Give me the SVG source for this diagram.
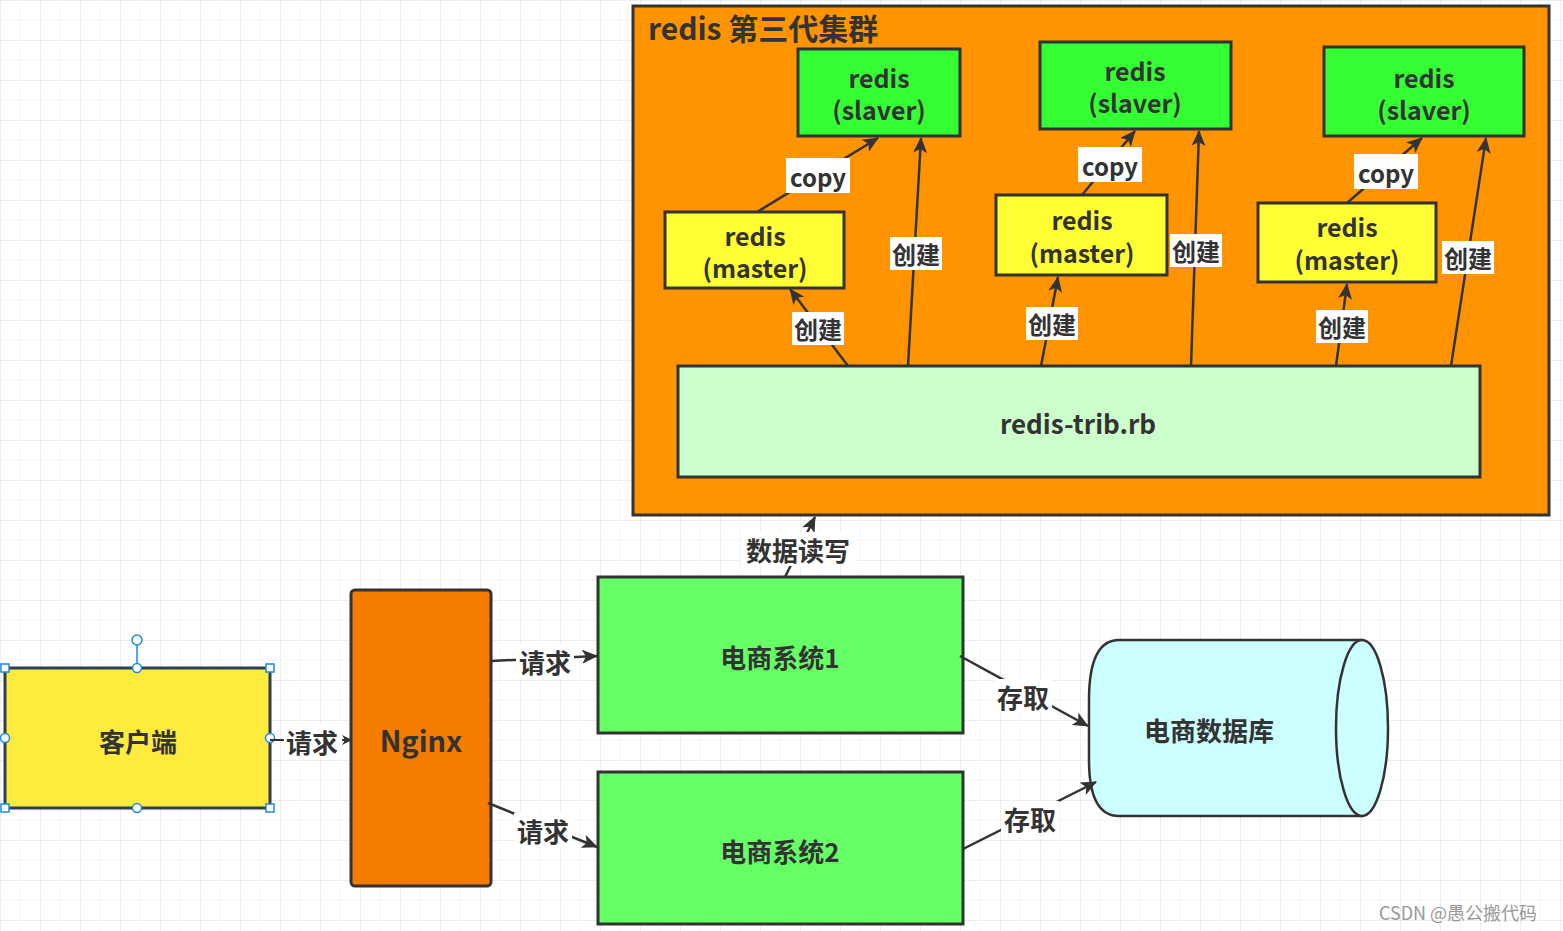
<svg xmlns="http://www.w3.org/2000/svg" width="1563" height="931" viewBox="0 0 1563 931">
<defs>
<pattern id="g" width="40" height="40" patternUnits="userSpaceOnUse"><path d="M40 0H0V40" fill="none" stroke="#e8e8e8" stroke-width="1.5"/><path d="M20 0V40M0 20H40" fill="none" stroke="#f3f3f3" stroke-width="1"/></pattern>
<marker id="a" markerWidth="10" markerHeight="10" refX="9" refY="5" orient="auto" markerUnits="userSpaceOnUse" viewBox="0 0 10 10"><path d="M0 0L10 5L0 10L3 5z" fill="#333"/></marker>
<marker id="b" markerWidth="16" markerHeight="14" refX="15" refY="7" orient="auto" markerUnits="userSpaceOnUse" viewBox="0 0 16 14"><path d="M0 0L16 7L0 14L4 7z" fill="#333"/></marker>
</defs>
<style>
text{font-family:"Noto Sans CJK SC","Noto Sans",sans-serif;font-weight:bold;fill:#333;text-anchor:middle;dominant-baseline:central}
.n{stroke:#333;stroke-width:3}
.c{fill:none;stroke:#333;stroke-width:2.5;marker-end:url(#b)}
.lb{fill:#fff}
.t26{font-size:26px}
.t25{font-size:25px}
.t24{font-size:24px}
.h{fill:#fff;stroke:#1e88e5;stroke-width:1.5}
</style>
<rect width="1563" height="931" fill="#fff"/>
<rect width="1563" height="931" fill="url(#g)"/>
<g id="cluster"><rect x="633" y="6" width="916" height="509" fill="#ff9400" class="n"/><text x="648" y="27" style="text-anchor:start;font-size:30px">redis 第三代集群</text></g>
<g id="slaver1"><rect x="798" y="49" width="162" height="87" fill="#33ff33" class="n"/><text x="879" y="77" class="t25">redis</text><text x="879" y="109" class="t25">(slaver)</text></g>
<g id="slaver2"><rect x="1040" y="42" width="191" height="87" fill="#33ff33" class="n"/><text x="1135" y="70" class="t25">redis</text><text x="1135" y="102" class="t25">(slaver)</text></g>
<g id="slaver3"><rect x="1324" y="47" width="200" height="89" fill="#33ff33" class="n"/><text x="1424" y="77" class="t25">redis</text><text x="1424" y="109" class="t25">(slaver)</text></g>
<g id="master1"><rect x="665" y="212" width="179" height="76" fill="#ffff33" class="n"/><text x="755" y="235" class="t25">redis</text><text x="755" y="267" class="t25">(master)</text></g>
<g id="master2"><rect x="996" y="195" width="171" height="80" fill="#ffff33" class="n"/><text x="1082" y="219" class="t25">redis</text><text x="1082" y="252" class="t25">(master)</text></g>
<g id="master3"><rect x="1258" y="203" width="178" height="79" fill="#ffff33" class="n"/><text x="1347" y="226" class="t25">redis</text><text x="1347" y="259" class="t25">(master)</text></g>
<g id="trib"><rect x="678" y="366" width="802" height="111" fill="#ccffcc" class="n"/><text x="1078" y="422" class="t26">redis-trib.rb</text></g>
<g id="nginx"><rect x="351" y="590" width="140" height="296" rx="4" fill="#f57c00" class="n"/><text x="421" y="739" style="font-size:29px">Nginx</text></g>
<g id="client"><rect x="5" y="668" width="265" height="140" fill="#ffeb3b" stroke="#2a3f5a" stroke-width="3"/><text x="138" y="740" class="t26">客户端</text>
<line x1="137" y1="641" x2="137" y2="668" stroke="#1e88e5" stroke-width="1.5"/><circle cx="137" cy="640" r="5" class="h"/><circle cx="137" cy="668" r="4.5" class="h"/><circle cx="137" cy="808" r="4.5" class="h"/><circle cx="5" cy="738" r="4.5" class="h"/><circle cx="270" cy="738" r="4.5" class="h"/>
<rect x="1" y="664" width="8" height="8" class="h"/><rect x="266" y="664" width="8" height="8" class="h"/><rect x="1" y="804" width="8" height="8" class="h"/><rect x="266" y="804" width="8" height="8" class="h"/></g>
<g id="sys1"><rect x="598" y="577" width="365" height="156" fill="#66ff66" class="n"/><text x="780" y="656" class="t26">电商系统1</text></g>
<g id="sys2"><rect x="598" y="772" width="365" height="152" fill="#66ff66" class="n"/><text x="780" y="850" class="t26">电商系统2</text></g>
<g id="db"><path d="M1362 640H1119Q1089 640 1089 700V760Q1089 816 1119 816H1362Z" fill="#ccffff" stroke="#333" stroke-width="2.5"/><ellipse cx="1362" cy="728" rx="26" ry="88" fill="#ccffff" stroke="#333" stroke-width="2.5"/><text x="1209" y="729" class="t26">电商数据库</text></g>
<g id="connectors">
<path class="c" d="M757 212L878 138"/><path class="c" d="M908 366L921 138"/><path class="c" d="M848 366L790 289"/>
<path class="c" d="M1082 195L1135 131"/><path class="c" d="M1191 366L1199 131"/><path class="c" d="M1041 366L1058 277"/>
<path class="c" d="M1347 203L1422 138"/><path class="c" d="M1451 366L1486 138"/><path class="c" d="M1336 366L1347 284"/>
<path class="c" d="M785 577L815 517"/>
<path class="c" style="stroke-width:2;marker-end:url(#a)" d="M270 740L351 740"/>
<path class="c" d="M491 661L597 656"/><path class="c" d="M488 803L597 847"/>
<path class="c" d="M960 656L1088 726"/><path class="c" d="M963 849L1096 782"/>
<rect class="lb" x="786" y="158" width="64" height="35"/><text x="818" y="176" class="t24">copy</text>
<rect class="lb" x="1078" y="147" width="64" height="35"/><text x="1110" y="165" class="t24">copy</text>
<rect class="lb" x="1354" y="154" width="64" height="35"/><text x="1386" y="172" class="t24">copy</text>
<rect class="lb" x="890" y="237" width="52" height="33"/><text x="916" y="253" class="t24">创建</text>
<rect class="lb" x="1170" y="234" width="52" height="33"/><text x="1196" y="250" class="t24">创建</text>
<rect class="lb" x="1442" y="241" width="52" height="33"/><text x="1468" y="257" class="t24">创建</text>
<rect class="lb" x="792" y="312" width="52" height="33"/><text x="818" y="328" class="t24">创建</text>
<rect class="lb" x="1026" y="307" width="52" height="33"/><text x="1052" y="323" class="t24">创建</text>
<rect class="lb" x="1316" y="310" width="52" height="33"/><text x="1342" y="326" class="t24">创建</text>
<rect class="lb" x="741" y="532" width="114" height="34"/><text x="798" y="549" class="t26">数据读写</text>
<rect class="lb" x="284" y="724" width="58" height="34"/><text x="312" y="741" class="t26">请求</text>
<rect class="lb" x="516" y="644" width="58" height="34"/><text x="545" y="661" class="t26">请求</text>
<rect class="lb" x="514" y="813" width="58" height="34"/><text x="543" y="830" class="t26">请求</text>
<rect class="lb" x="994" y="679" width="58" height="34"/><text x="1023" y="696" class="t26">存取</text>
<rect class="lb" x="1001" y="801" width="58" height="34"/><text x="1030" y="818" class="t26">存取</text>
</g>
<text x="1458" y="912" style="font-size:18px;font-weight:normal;fill:#999">CSDN @愚公搬代码</text>
</svg>
